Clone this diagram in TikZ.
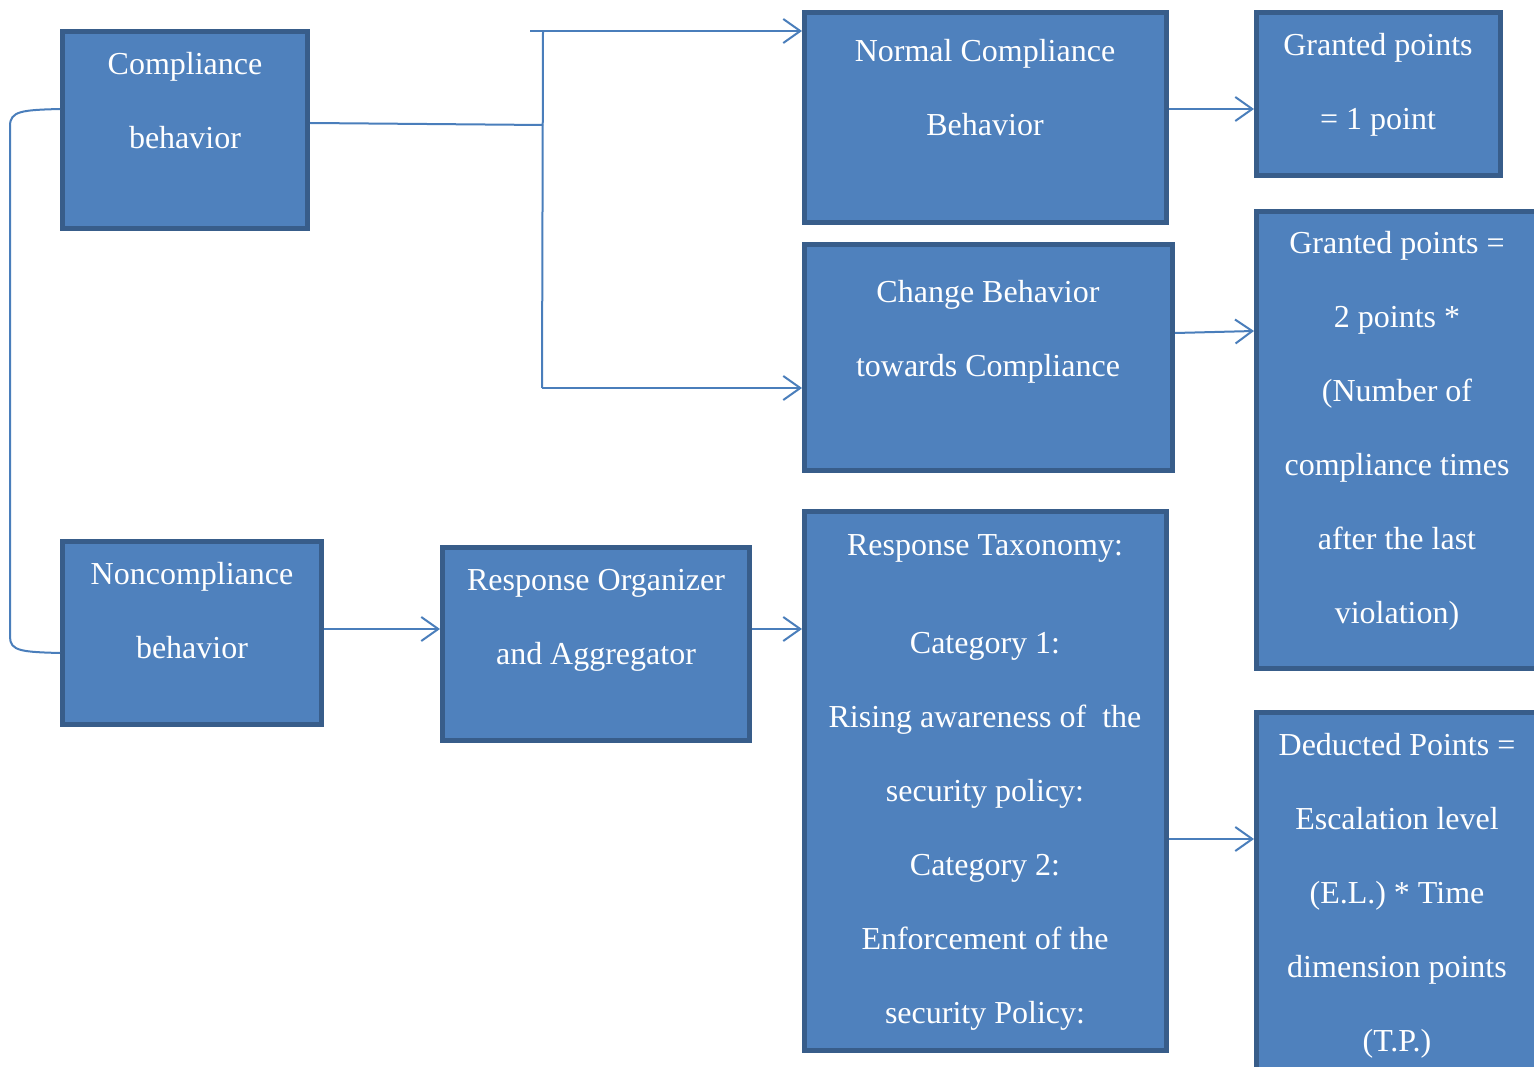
\documentclass[tikz,border=0pt]{standalone}
\usepackage{fontspec}
\setmainfont{Liberation Serif}
\usetikzlibrary{arrows.meta}
\definecolor{boxfill}{HTML}{4F81BD}
\definecolor{boxline}{HTML}{385D8A}
\definecolor{conn}{HTML}{4A7EBB}
\newcommand{\lstrut}{\rule[-7pt]{0pt}{32pt}}
\begin{document}
\begin{tikzpicture}[x=1pt,y=-1pt,
  box/.style={draw=boxline, fill=boxfill, line width=5pt, rectangle, inner sep=0pt, outer sep=2.5pt},
  txt/.style={text=white, align=center, inner sep=0pt, font=\fontsize{32}{74}\selectfont},
  conline/.style={draw=conn, line width=2pt},
  arr/.style={conline, -{Straight Barb[length=17pt,width=24pt,line width=2pt]}}]
\useasboundingbox (0,0) rectangle (1534,1067);
\clip (0,0) rectangle (1534,1067);
% boxes
\node[box, minimum width=245pt, minimum height=197pt] (comp) at (185,130) {};
\node[box, minimum width=259pt, minimum height=183pt] (noncomp) at (192,633) {};
\node[box, minimum width=307pt, minimum height=193pt] (resporg) at (596,644) {};
\node[box, minimum width=362pt, minimum height=210pt] (normal) at (985.5,117.5) {};
\node[box, minimum width=368pt, minimum height=226pt] (change) at (988.5,357.5) {};
\node[box, minimum width=362pt, minimum height=539pt] (taxo) at (985.5,781) {};
\node[box, minimum width=244pt, minimum height=163pt] (gone) at (1378.5,94) {};
\node[box, minimum width=281pt, minimum height=457pt] (gtwo) at (1397,440) {};
\node[box, minimum width=281pt, minimum height=375pt] (deduct) at (1397,900) {};
% texts
\node[txt] (compt) at (185,102.5) {\lstrut Compliance\\\lstrut behavior};
\node[txt] (noncompt) at (192,612) {\lstrut Noncompliance\\\lstrut behavior};
\node[txt] (resporgt) at (596,618) {\lstrut Response Organizer\\\lstrut and Aggregator};
\node[txt] (normalt) at (985,89.5) {\lstrut Normal Compliance\\\lstrut Behavior};
\node[txt] (changet) at (988,330) {\lstrut Change Behavior\\\lstrut towards Compliance};
\node[txt] (taxot) at (985,780) {\lstrut Response Taxonomy:\\[24pt]\lstrut Category 1:\\\lstrut Rising awareness of~ the\\\lstrut security policy:\\\lstrut Category 2:\\\lstrut Enforcement of the\\\lstrut security Policy:};
\node[txt] (gonet) at (1378,84) {\lstrut Granted points\\\lstrut = 1 point};
\node[txt] (gtwot) at (1397,429) {\lstrut Granted points =\\\lstrut 2 points *\\\lstrut (Number of\\\lstrut compliance times\\\lstrut after the last\\\lstrut violation)};
\node[txt] (deductt) at (1397,894) {\lstrut Deducted Points =\\\lstrut Escalation level\\\lstrut (E.L.) * Time\\\lstrut dimension points\\\lstrut (T.P.)};
% level coordinates
\coordinate (yc) at (0,123);
\coordinate (busin) at (543,125);
\coordinate (bustop) at (543,31);
\coordinate (bustopl) at (530,31);
\coordinate (busbot) at (542,388);
\coordinate (ya) at (0,109);
\coordinate (yb1) at (0,333);
\coordinate (yb2) at (0,331);
\coordinate (yn) at (0,629);
\coordinate (yd) at (0,839);
\coordinate (yl1) at (0,109);
\coordinate (yl2) at (0,653);
\coordinate (bk1) at (10,126);
\coordinate (bk2) at (10,637);
% connectors
\draw[conline] (comp.east |- yc) -- (busin);
\draw[conline] (bustop) -- (busbot);
\draw[arr] (bustopl) -- (normal.west |- bustopl);
\draw[arr] (busbot) -- (change.west |- busbot);
\draw[conline] (comp.west |- yl1) .. controls (22,110) and (10,111) .. (bk1) -- (bk2) .. controls (10,651) and (22,652) .. (noncomp.west |- yl2);
\draw[arr] (normal.east |- ya) -- (gone.west |- ya);
\draw[arr] (change.east |- yb1) -- (gtwo.west |- yb2);
\draw[arr] (noncomp.east |- yn) -- (resporg.west |- yn);
\draw[arr] (resporg.east |- yn) -- (taxo.west |- yn);
\draw[arr] (taxo.east |- yd) -- (deduct.west |- yd);
\end{tikzpicture}
\end{document}
